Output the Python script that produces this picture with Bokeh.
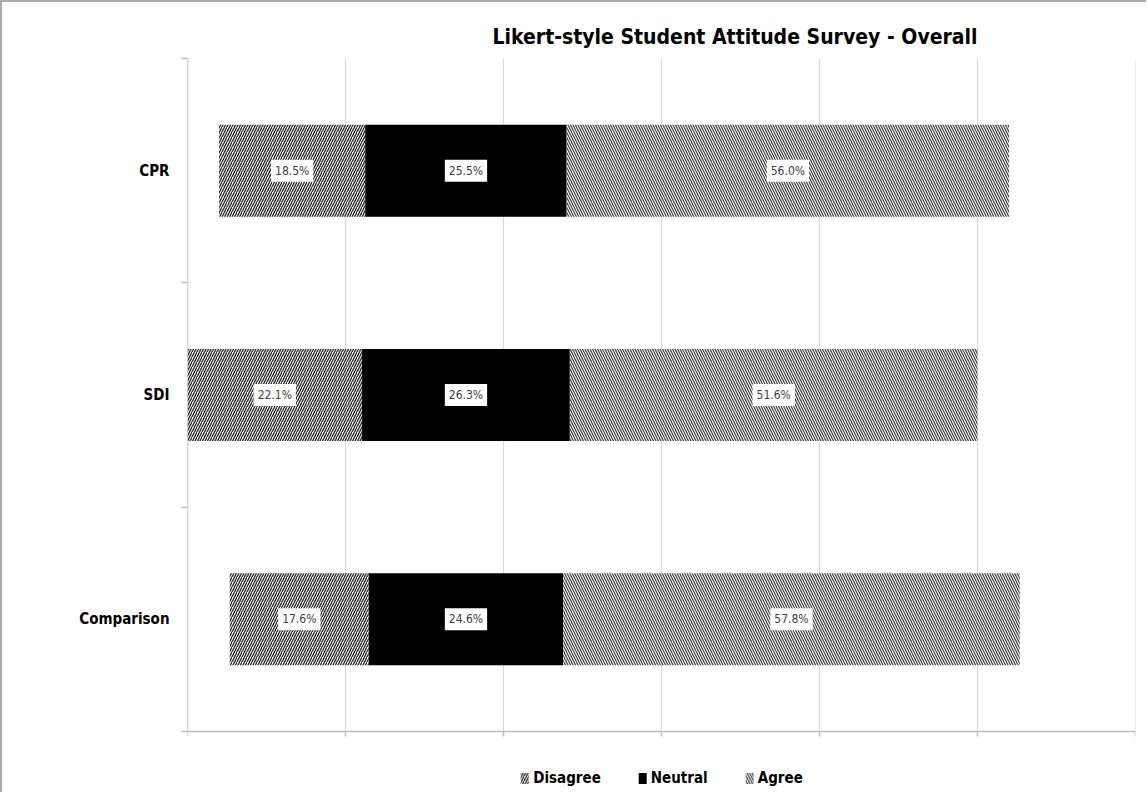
from bokeh.plotting import figure
from bokeh.models import ColumnDataSource, Label, FixedTicker, Legend, LegendItem, Range1d
from bokeh.embed import file_html
from bokeh.resources import INLINE

categories = ["CPR", "SDI", "Comparison"]
disagree = [18.5, 22.1, 17.6]
neutral = [25.5, 26.3, 24.6]
agree = [56.0, 51.6, 57.8]
x_ticks = [0, 20, 40, 60, 80, 100, 120]

FONT = "'Liberation Sans Narrow', 'DejaVu Sans Condensed', 'Open Sans', sans-serif"

n = len(categories)
ys = [n - i - 0.5 for i in range(n)]
mids = [d + nu / 2 for d, nu in zip(disagree, neutral)]
pads = [max(mids) - m for m in mids]

d_left = pads
d_right = [p_ + d for p_, d in zip(pads, disagree)]
n_right = [r + nu for r, nu in zip(d_right, neutral)]
a_right = [r + a for r, a in zip(n_right, agree)]

src = ColumnDataSource(dict(
    y=ys, d_left=d_left, d_right=d_right, n_right=n_right, a_right=a_right,
))

PLOT_H = 673          # pixel height of the category area
LEGEND_H = 61         # pixel strip below it that holds the legend
unit = PLOT_H / n     # pixels per category
y_min = -LEGEND_H / unit
tick_len = 5 / unit

p = figure(frame_width=948, frame_height=PLOT_H + LEGEND_H, output_backend="svg",
           toolbar_location=None, x_range=Range1d(0, 120), y_range=Range1d(y_min, n),
           min_border_left=185, min_border_right=11, min_border_top=56, min_border_bottom=0)
p.styles = {"border-left": "2px solid #ababab", "border-top": "2px solid #ababab"}

# vertical gridlines and axis lines, limited to the category area
p.segment(x0=x_ticks, y0=[0] * len(x_ticks), x1=x_ticks, y1=[n] * len(x_ticks),
          line_color="#d9d9d9", line_width=1.2)
p.segment(x0=[0], y0=[0], x1=[120], y1=[0], line_color="#bfbfbf", line_width=1.5)
p.segment(x0=[0], y0=[0], x1=[0], y1=[n], line_color="#bfbfbf", line_width=1.5)
p.segment(x0=x_ticks, y0=[0] * len(x_ticks), x1=x_ticks, y1=[-tick_len] * len(x_ticks),
          line_color="#bfbfbf", line_width=1.5)

r_d = p.hbar(y="y", left="d_left", right="d_right", height=0.41, source=src,
             fill_color="white", hatch_pattern="/", hatch_color="#2e2e2e",
             hatch_scale=5, hatch_weight=1.4, line_color=None)
r_n = p.hbar(y="y", left="d_right", right="n_right", height=0.41, source=src,
             fill_color="black", line_color=None)
r_a = p.hbar(y="y", left="n_right", right="a_right", height=0.41, source=src,
             fill_color="white", hatch_pattern="\\", hatch_color="#454545",
             hatch_scale=5, hatch_weight=1.25, line_color=None)

# data labels
for i in range(n):
    segs = [(d_left[i], d_right[i], disagree[i]), (d_right[i], n_right[i], neutral[i]),
            (n_right[i], a_right[i], agree[i])]
    for l, r, v in segs:
        p.add_layout(Label(x=(l + r) / 2, y=ys[i], text=f"{v:.1f}%",
                           text_align="center", text_baseline="middle",
                           text_font=FONT, text_font_size="12px", text_color="#404040",
                           background_fill_color="white", padding=4))

# title
p.title.text = "Likert-style Student Attitude Survey - Overall"
p.title.align = "left"
p.title.offset = 305
p.title.text_font = FONT
p.title.text_font_size = "21px"
p.title.text_font_style = "bold"
p.title.text_color = "black"
p.title.standoff = 20

# axes
p.xaxis.visible = False

p.yaxis.ticker = FixedTicker(ticks=ys, minor_ticks=list(range(n + 1)))
p.yaxis.major_label_overrides = {y: c for y, c in zip(ys, categories)}
p.yaxis.major_label_text_font = FONT
p.yaxis.major_label_text_font_size = "15px"
p.yaxis.major_label_text_font_style = "bold"
p.yaxis.major_label_text_color = "black"
p.yaxis.major_label_standoff = 12
p.yaxis.major_tick_line_color = None
p.yaxis.minor_tick_line_color = "#bfbfbf"
p.yaxis.minor_tick_line_width = 1.5
p.yaxis.minor_tick_in = 0
p.yaxis.minor_tick_out = 6
p.yaxis.axis_line_color = None

p.xgrid.grid_line_color = None
p.ygrid.grid_line_color = None
p.outline_line_color = None

legend = Legend(items=[LegendItem(label="Disagree", renderers=[r_d]),
                       LegendItem(label="Neutral", renderers=[r_n]),
                       LegendItem(label="Agree", renderers=[r_a])],
                orientation="horizontal", location="bottom_center",
                label_text_font=FONT, label_text_font_size="15px",
                label_text_font_style="bold", label_text_color="black",
                label_height=16,
                glyph_width=10, glyph_height=14, label_standoff=4, spacing=36,
                border_line_color=None, background_fill_alpha=0, margin=5, padding=4)
p.add_layout(legend)

open("out.html", "w").write(file_html(p, INLINE))
